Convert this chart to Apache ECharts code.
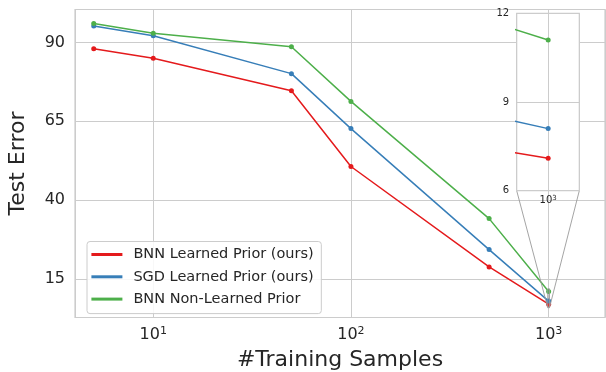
<!DOCTYPE html>
<html>
<head>
<meta charset="utf-8">
<script src="https://cdn.jsdelivr.net/npm/echarts@6/dist/echarts.min.js"></script>
<style>
  html, body { margin: 0; padding: 0; background: #ffffff; }
  #chart { width: 606px; height: 372px; }
</style>
</head>
<body>
<div id="chart"></div>
<script>
// Training-set sizes (log-scaled x axis)
const samples = [5, 10, 50, 100, 500, 1000];

// Test error for each method
const bnnLearned    = [88.0, 85.0, 74.7, 50.7, 18.9, 7.1];
const sgdLearned    = [95.2, 92.1, 80.1, 62.7, 24.4, 8.1];
const bnnNonLearned = [96.0, 92.9, 88.6, 71.3, 34.2, 11.1];

const seriesNames = ['BNN Learned Prior (ours)', 'SGD Learned Prior (ours)', 'BNN Non-Learned Prior'];
const seriesData  = [bnnLearned, sgdLearned, bnnNonLearned];
const seriesColors = ['#e41a1c', '#377eb8', '#4daf4a'];

// Tick values
const yTicks = [15, 40, 65, 90];
const zoomXRange = [990, 1010];
const zoomYRange = [6, 12];

const FONT = 'DejaVu Sans';
const TEXT = '#262626';
const GRIDC = '#cccccc';

function pairs(ys) { return samples.map((x, i) => [x, ys[i]]); }

// "10^n" labels for powers of ten, blank elsewhere
function powerLabel(v) {
  const e = Math.log10(v);
  const r = Math.round(e);
  if (Math.abs(e - r) > 1e-6) return '';
  return '{b|10}{s|' + r + '}';
}

function powerRich(size, baseLH, supLH) {
  return {
    b: { fontFamily: FONT, fontSize: size, color: TEXT, lineHeight: baseLH },
    s: { fontFamily: FONT, fontSize: Math.round(size * 0.7), color: TEXT, lineHeight: supLH, verticalAlign: 'top' }
  };
}

const chart = echarts.init(document.getElementById('chart'), null, { renderer: 'canvas' });

const series = [];
seriesData.forEach((ys, i) => {
  const base = {
    name: seriesNames[i],
    type: 'line',
    data: pairs(ys),
    symbol: 'circle',
    symbolSize: 5,
    showSymbol: true,
    color: seriesColors[i],
    lineStyle: { width: 1.5, color: seriesColors[i] },
    itemStyle: { color: seriesColors[i] },
    emphasis: { disabled: true },
    clip: true
  };
  series.push(Object.assign({}, base, { xAxisIndex: 0, yAxisIndex: 0, z: 2 + i * 0.1 }));
  series.push(Object.assign({}, base, { xAxisIndex: 1, yAxisIndex: 1, z: 6 + i * 0.1 }));
});

const option = {
  animation: false,
  backgroundColor: '#ffffff',
  textStyle: { fontFamily: FONT, color: TEXT },
  grid: [
    { left: 75, top: 9.5, right: 1, bottom: 54.5, show: true, borderColor: GRIDC, borderWidth: 1.2, backgroundColor: '#ffffff', containLabel: false, outerBoundsMode: 'none' },
    { left: 516.7, top: 13.3, width: 62.6, height: 177.4, show: true, borderColor: GRIDC, borderWidth: 1.2, backgroundColor: '#ffffff', z: 4, containLabel: false, outerBoundsMode: 'none' }
  ],
  xAxis: [
    {
      type: 'log', logBase: 10, gridIndex: 0, min: 4.02, max: 1928,
      name: '#Training Samples', nameLocation: 'middle', nameGap: 43,
      nameTextStyle: { fontFamily: FONT, fontSize: 22, color: TEXT, verticalAlign: 'middle' },
      axisLine: { show: false }, axisTick: { show: false }, minorTick: { show: false },
      axisLabel: { margin: 8, formatter: powerLabel, rich: powerRich(16, 18, 8) },
      splitLine: { show: true, lineStyle: { color: GRIDC, width: 1 } }
    },
    {
      type: 'log', logBase: 10, gridIndex: 1, min: zoomXRange[0], max: zoomXRange[1], z: 5,
      axisLine: { show: false }, axisTick: { show: false },
      axisLabel: { margin: 4, formatter: powerLabel, rich: powerRich(10, 12, 3) },
      splitLine: { show: true, lineStyle: { color: GRIDC, width: 1 } }
    }
  ],
  yAxis: [
    {
      type: 'value', gridIndex: 0, min: 2.9, max: 100.4,
      name: 'Test Error', nameLocation: 'middle', nameGap: 57,
      nameTextStyle: { fontFamily: FONT, fontSize: 22, color: TEXT, verticalAlign: 'middle' },
      axisLine: { show: false },
      axisTick: { show: false, customValues: yTicks },
      axisLabel: { margin: 10, fontFamily: FONT, fontSize: 16, color: TEXT, customValues: yTicks },
      splitLine: { show: true, lineStyle: { color: GRIDC, width: 1 } }
    },
    {
      type: 'value', gridIndex: 1, min: zoomYRange[0], max: zoomYRange[1], interval: 3, z: 5,
      axisLine: { show: false }, axisTick: { show: false },
      axisLabel: { margin: 7.5, fontFamily: FONT, fontSize: 10, color: TEXT },
      splitLine: { show: true, lineStyle: { color: GRIDC, width: 1 } }
    }
  ],
  legend: {
    orient: 'vertical',
    left: 87, top: 241.5,
    data: seriesNames,
    icon: 'rect',
    itemWidth: 31, itemHeight: 3,
    itemGap: 6.3,
    padding: [5, 7.6, 6.5, 4.4],
    backgroundColor: 'rgba(255,255,255,0.85)',
    borderColor: GRIDC, borderWidth: 1, borderRadius: 3,
    selectedMode: false,
    textStyle: { fontFamily: FONT, fontSize: 14.5, color: TEXT, lineHeight: 16, padding: [0, 0, 0, 6] },
    z: 8
  },
  series: series
};

chart.setOption(option);

// Zoom indicator: box around the magnified region plus two connector lines
const toMain = pt => chart.convertToPixel({ gridIndex: 0 }, pt);
const toInset = pt => chart.convertToPixel({ gridIndex: 1 }, pt);
const boxA = toMain([zoomXRange[0], zoomYRange[1]]);
const boxB = toMain([zoomXRange[1], zoomYRange[0]]);
const insetBL = toInset([zoomXRange[0], zoomYRange[0]]);
const insetBR = toInset([zoomXRange[1], zoomYRange[0]]);
const connectorStyle = { stroke: '#9a9a9a', lineWidth: 0.9, fill: null };

chart.setOption({
  graphic: [
    { type: 'rect', silent: true, z: 3, shape: { x: boxA[0], y: boxA[1], width: boxB[0] - boxA[0], height: boxB[1] - boxA[1] }, style: connectorStyle },
    { type: 'line', silent: true, z: 3, shape: { x1: insetBL[0], y1: insetBL[1], x2: boxA[0], y2: boxB[1] }, style: connectorStyle },
    { type: 'line', silent: true, z: 3, shape: { x1: insetBR[0], y1: insetBR[1], x2: boxB[0], y2: boxB[1] }, style: connectorStyle }
  ]
});
</script>
</body>
</html>
